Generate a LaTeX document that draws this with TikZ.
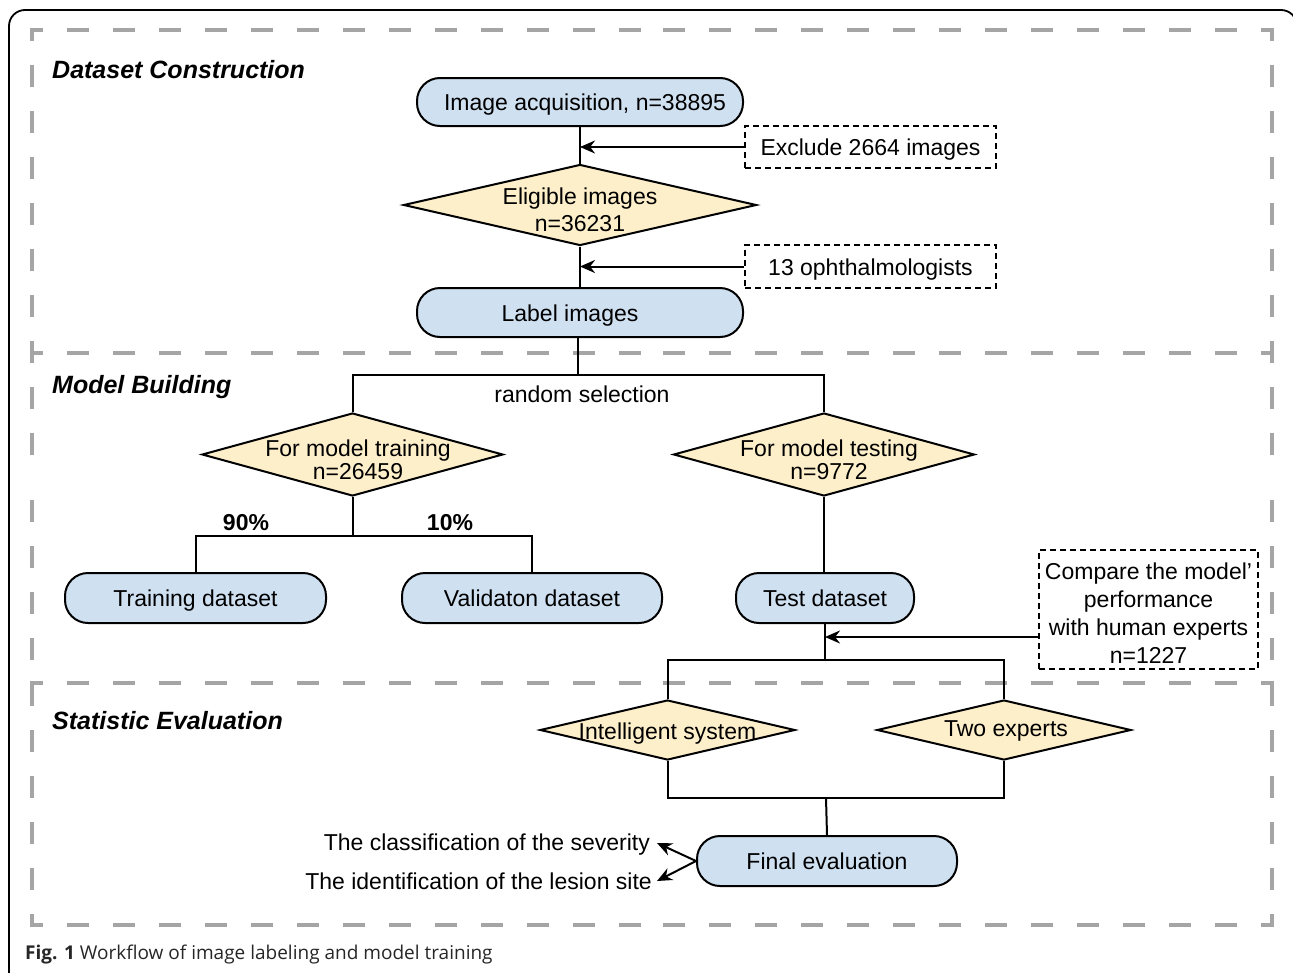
\documentclass[tikz,border=0pt]{standalone}
\usepackage{fontspec}
\setmainfont{Liberation Sans}
\newfontfamily\capfont{Open Sans}
\usetikzlibrary{shapes.geometric,arrows.meta,calc}
\definecolor{pillblue}{RGB}{207,224,241}
\definecolor{diayellow}{RGB}{253,239,201}
\definecolor{sepgray}{RGB}{165,165,165}
\begin{document}
\begin{tikzpicture}[x=1pt,y=-1pt,
  font=\fontsize{23}{27}\selectfont,
  pill/.style={draw=black, line width=2pt, fill=pillblue, rounded corners=23pt, minimum height=49pt, inner sep=0pt, align=center, text height=21pt, text depth=3.5pt},
  dia/.style={diamond, draw=black, line width=2pt, fill=diayellow, inner sep=0pt},
  note/.style={draw=black, line width=1.8pt, dash pattern=on 6pt off 4pt, inner sep=0pt, align=center},
  conn/.style={line width=2pt},
  arr/.style={line width=2pt, -{Stealth[length=15pt,width=13pt]}},
  sep/.style={sepgray, line width=4pt, line cap=rect, dash pattern=on 18pt off 28pt, dash phase=9pt},
  sect/.style={anchor=west, inner sep=0pt, font=\fontsize{25}{30}\selectfont\bfseries\itshape},
  lbl/.style={inner sep=0pt, align=center, font=\fontsize{23}{26}\selectfont}
]
\clip (0,0) rectangle (1293,972);
\fill[white] (0,0) rectangle (1293,972);

% outer frame
\draw[line width=1.8pt, rounded corners=16pt] (9,995) -- (9,10) -- (1297,10) -- (1297,995);

% gray dashed section frame
\foreach \yy in {30,353,683,925} {
  \draw[sep] (32,\yy) -- (652,\yy);
  \draw[sep] (1272,\yy) -- (652,\yy);
}
\draw[sep] (32,30) -- (32,478);
\draw[sep] (32,925) -- (32,478);
\draw[sep] (1272,30) -- (1272,478);
\draw[sep] (1272,925) -- (1272,478);

% section titles
\node[sect] (s1) at (52,70) {Dataset Construction};
\node[sect] (s2) at (52,387) {Model Building};
\node[sect] (s3) at (52,721) {Statistic Evaluation};

% nodes
\node[pill, minimum width=326pt, minimum height=48pt] (img) at (580,102) {\hspace*{10pt}Image acquisition, n=38895};
\node[note, minimum width=251pt, minimum height=42pt, text height=21pt, text depth=3.5pt] (excl) at (870.5,147) {Exclude 2664 images};
\node[dia, minimum width=353pt, minimum height=81pt] (elig) at (580,205) {};
\node[lbl, font=\fontsize{23}{27}\selectfont] (eligt) at (580,210) {Eligible images\\n=36231};
\node[note, minimum width=251pt, minimum height=43pt, text height=21pt, text depth=3.5pt] (oph) at (870.5,266.5) {13 ophthalmologists};
\node[pill, minimum width=326pt] (label) at (580,312.5) {\hspace*{-20pt}Label images};

\node[lbl] (rs) at (582,394) {random selection};

\node[dia, minimum width=301pt, minimum height=83pt] (train) at (352.5,454.5) {};
\node[lbl, font=\fontsize{23}{23.5}\selectfont] (traint) at (358,460) {For model training\\n=26459};
\node[dia, minimum width=301pt, minimum height=83pt] (test) at (824,454.5) {};
\node[lbl, font=\fontsize{23}{23.5}\selectfont] (testt) at (829,460) {For model testing\\n=9772};

\node[lbl, font=\fontsize{23}{26}\selectfont\bfseries] (p90) at (246,523) {90\%};
\node[lbl, font=\fontsize{23}{26}\selectfont\bfseries] (p10) at (450,523) {10\%};

\node[pill, minimum width=261pt, minimum height=50pt] (trd) at (195.5,598) {Training dataset};
\node[pill, minimum width=260pt, minimum height=50pt] (val) at (532,598) {Validaton dataset};
\node[pill, minimum width=178pt, minimum height=50pt] (tds) at (825,598) {Test dataset};

\node[note, minimum width=219pt, minimum height=119pt] (comp) at (1148.5,609.5) {};
\node[lbl, font=\fontsize{23}{27.8}\selectfont] (compt) at (1148.5,613) {Compare the model’\\performance\\with human experts\\n=1227};

\node[dia, minimum width=255pt, minimum height=60pt] (intel) at (667.5,730) {};
\node[lbl] (intelt) at (667.5,734) {Intelligent system};
\node[dia, minimum width=254pt, minimum height=60pt] (two) at (1004,730) {};
\node[lbl] (twot) at (1006,731) {Two experts};

\node[pill, minimum width=260pt, minimum height=50pt] (final) at (827,861) {Final evaluation};

\node[lbl, anchor=east] (cls) at (650,845) {The classification of the severity};
\node[lbl, anchor=east] (idf) at (652,881) {The identification of the lesion site};

% coordinates
\coordinate (c1) at (578,375);
\coordinate (c2) at (352.5,536);
\coordinate (c3) at (825,660);
\coordinate (c4) at (826,798);

% connectors
\draw[conn] (img.south) -- (elig.north);
\draw[arr] (excl.west) -- (excl.west -| img.south);
\draw[conn] (elig.south) -- (label.north);
\draw[arr] (oph.west) -- (oph.west -| label.north);
\draw[conn] (label.south -| c1) -- (c1);
\draw[conn] (train.north) |- (c1) -| (test.north);
\draw[conn] (train.south) -- (c2);
\draw[conn] (trd.north) |- (c2) -| (val.north);
\draw[conn] (test.south) -- (tds.north -| test.south);
\draw[conn] (tds.south) -- (c3);
\draw[conn] (intel.north) |- (c3) -| (two.north);
\draw[arr] ([yshift=-27.5pt]comp.west) -- ([yshift=-27.5pt]comp.west -| c3);
\draw[conn] (intel.south) |- (c4) -| (two.south);
\draw[conn] (c4) -- (final.north);
\draw[arr] (final.west) -- ([xshift=7pt,yshift=2pt]cls.east);
\draw[arr] (final.west) -- ([xshift=5pt]idf.east);

% caption
\node[anchor=west, inner sep=0pt, text=black!85, font=\capfont\fontsize{19}{23}\selectfont] (cap) at (25,955) {\textbf{Fig. 1} Workflow of image labeling and model training};
\end{tikzpicture}
\end{document}
